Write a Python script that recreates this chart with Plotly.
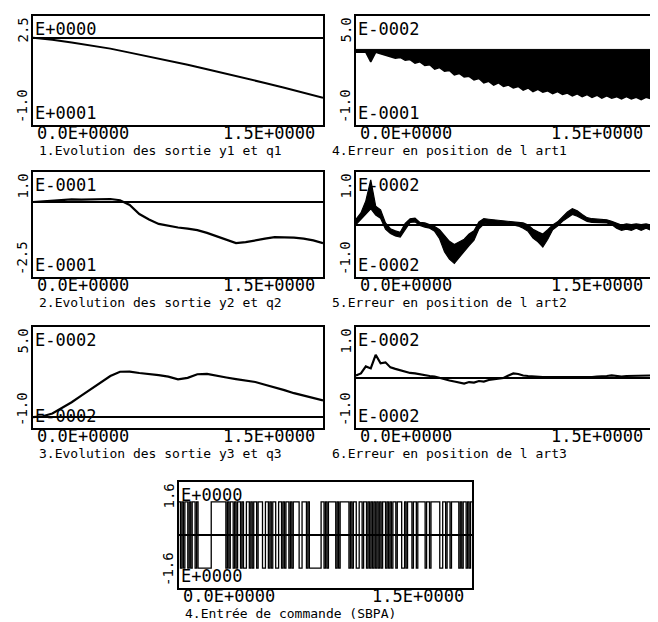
import plotly.graph_objects as go

# The page body adds an 8 px margin, so the figure is drawn 8 px smaller and
# every pixel position below is given in window pixels and shifted by OFF.
OFF = 8
W, H = 658 - OFF, 622 - OFF

# ---------------- time grids ----------------
t01 = [round(i * 0.1, 3) for i in range(16)]
t05 = [round(i * 0.05, 3) for i in range(31)]
t025 = [round(i * 0.025, 4) for i in range(61)]

# ---------------- 1. y1 / q1 ----------------
y1_out = [0.0, -0.22, -0.54, -0.86, -1.24, -1.7, -2.15, -2.6, -3.1, -3.6,
          -4.1, -4.63, -5.18, -5.73, -6.3, -6.87]

# ---------------- 4. error art1 (band between upper and lower envelope) ----------------
err1_t_up = [0.0, 0.5, 1.0, 1.5]
err1_up = [0.004, 0.004, 0.004, 0.004]
err1_low = [0.002, 0.001, 0.000, -0.013, 0.000, -0.002, -0.004, -0.005, -0.008, -0.007,
            -0.011, -0.010, -0.015, -0.013, -0.018, -0.017, -0.023, -0.021, -0.026, -0.025,
            -0.031, -0.029, -0.034, -0.033, -0.038, -0.036, -0.042, -0.040, -0.045, -0.042,
            -0.047, -0.045, -0.049, -0.047, -0.052, -0.049, -0.054, -0.051, -0.055, -0.053,
            -0.057, -0.054, -0.058, -0.056, -0.060, -0.057, -0.061, -0.058, -0.062, -0.059,
            -0.063, -0.060, -0.063, -0.061, -0.064, -0.061, -0.064, -0.062, -0.065, -0.062,
            -0.064]

# ---------------- 2. y2 / q2 ----------------
y2_out = [0.0, 0.002, 0.005, 0.008, 0.009, 0.008, 0.008, 0.009, 0.010, 0.006,
          -0.010, -0.040, -0.058, -0.073, -0.080, -0.085, -0.089, -0.094, -0.103, -0.115,
          -0.127, -0.137, -0.134, -0.127, -0.122, -0.117, -0.117, -0.119, -0.122, -0.128,
          -0.137]

# ---------------- 5. error art2 (noisy band) ----------------
err2_up = [0.001, 0.0022, 0.0045, 0.0085, 0.0035, 0.0028, 0.0003, -0.0008, -0.0012, -0.0015,
           0.0002, 0.0011, 0.0012, 0.0004, 0.0003, 0.0, -0.0004, -0.001, -0.0022, -0.0032,
           -0.0038, -0.0033, -0.0028, -0.0018, -0.0012, 0.0005, 0.0011, 0.001, 0.0009, 0.0008,
           0.0007, 0.0007, 0.0006, 0.0005, 0.0003, -0.0001, -0.0009, -0.0014, -0.0018, -0.001,
           -0.0001, 0.0005, 0.0014, 0.0024, 0.003, 0.0026, 0.0019, 0.0013, 0.0011, 0.001,
           0.001, 0.0009, 0.0006, 0.0002, -0.0001, 0.0001, 0.0, 0.0001, 0.0, 0.0001,
           -0.0001]
err2_low = [0.0, 0.001, 0.002, 0.003, 0.0018, 0.0012, -0.0009, -0.0017, -0.0022, -0.0024,
            -0.001, 0.0004, 0.0005, -0.0002, -0.0005, -0.0007, -0.0013, -0.0027, -0.0052, -0.0066,
            -0.0074, -0.0062, -0.0052, -0.004, -0.003, -0.0008, 0.0001, 0.0002, 0.0001, 0.0001,
            0.0, 0.0, -0.0001, -0.0003, -0.0007, -0.0013, -0.0026, -0.0033, -0.0043, -0.0028,
            -0.001, -0.0003, 0.0006, 0.0013, 0.0019, 0.0016, 0.0011, 0.0006, 0.0004, 0.0004,
            0.0003, 0.0003, 0.0, -0.0007, -0.0011, -0.0009, -0.0011, -0.0007, -0.0011, -0.0007,
            -0.0011]

# ---------------- 3. y3 / q3 ----------------
y3_out = [0.0, 0.0005, 0.002, 0.005, 0.0083, 0.012, 0.0155, 0.019, 0.0228, 0.0252,
          0.0253, 0.0245, 0.024, 0.0233, 0.0225, 0.021, 0.0218, 0.0238, 0.024, 0.0232,
          0.022, 0.0211, 0.0203, 0.0195, 0.018, 0.0166, 0.015, 0.0133, 0.0121, 0.0107,
          0.0093]

# ---------------- 6. error art3 ----------------
err3 = [0.0004, 0.0008, 0.0022, 0.0018, 0.0045, 0.0028, 0.0030, 0.0020, 0.0017, 0.0014,
        0.0012, 0.0009, 0.0008, 0.0006, 0.0005, 0.0003, 0.0002, -0.0001, -0.0003, -0.0006,
        -0.0008, -0.0010, -0.0012, -0.0009, -0.0010, -0.0007, -0.0008, -0.0005, -0.0004, -0.0003,
        -0.0001, 0.0004, 0.0008, 0.0007, 0.0004, 0.0003, 0.0002, 0.0002, 0.0001, 0.0001,
        0.0001, 0.0, 0.0001, 0.0001, 0.0, 0.0001, 0.0001, 0.0, 0.0001, 0.0002,
        0.0002, 0.0003, 0.0004, 0.0003, 0.0002, 0.0003, 0.0003, 0.0004, 0.0003, 0.0004,
        0.0004]

# ---------------- 7. SBPA command input (bits, period 0.0075 s) ----------------
sbpa_period = 0.0075
sbpa_bits = ("1010110101" "1010000000" "0011111111" "1101011010" "1101001101"
             "0110111001" "1010110011" "0101101011" "1100111010" "0000000110"
             "1011111010" "1111110101" "1001101101" "0101010101" "1010101101"
             "1100101110" "1101111101" "1011111100" "1101101111" "1010110101")

# ---------------- labels ----------------
captions = ["1.Evolution des sortie y1 et q1", "4.Erreur en position de l art1",
            "2.Evolution des sortie y2 et q2", "5.Erreur en position de l art2",
            "3.Evolution des sortie y3 et q3", "6.Erreur en position de l art3",
            "4.Entrée de commande (SBPA)"]
ytop_labels = ["2.5", "5.0", "1.0", "1.0", "5.0", "1.0", "1.6"]
ybot_labels = ["-1.0", "-1.0", "-2.5", "-1.0", "-1.0", "-1.0", "-1.6"]
etop_labels = ["E+0000", "E-0002", "E-0001", "E-0002", "E-0002", "E-0002", "E+0000"]
ebot_labels = ["E+0001", "E-0001", "E-0001", "E-0002", "E-0002", "E-0002", "E+0000"]
xmin_label, xmax_label = "0.0E+0000", "1.5E+0000"

yranges = [[-10, 2.5], [-0.1, 0.05], [-0.25, 0.1], [-0.01, 0.01],
           [-0.006, 0.05], [-0.01, 0.01], [-1.6, 1.6]]

# panel boxes in window pixels (left, right, top, bottom)
boxes = [(33, 323, 16, 125), (356, 651, 16, 125),
         (33, 323, 172, 277), (356, 651, 172, 277),
         (33, 323, 327, 428), (356, 651, 327, 428),
         (179, 472, 482, 588)]

fig = go.Figure()
LINE = dict(color="black", width=2)


def ax(n):
    return ("x" if n == 1 else f"x{n}"), ("y" if n == 1 else f"y{n}")


xa, ya = ax(1)
fig.add_trace(go.Scatter(x=t01, y=y1_out, mode="lines", line=LINE, xaxis=xa, yaxis=ya))

xa, ya = ax(2)
fig.add_trace(go.Scatter(x=err1_t_up, y=err1_up, mode="lines", line=dict(color="black", width=1),
                         xaxis=xa, yaxis=ya))
fig.add_trace(go.Scatter(x=t025, y=err1_low, mode="lines", line=dict(color="black", width=1.5),
                         fill="tonexty", fillcolor="black", xaxis=xa, yaxis=ya))

xa, ya = ax(3)
fig.add_trace(go.Scatter(x=t05, y=y2_out, mode="lines", line=dict(color="black", width=2.2),
                         xaxis=xa, yaxis=ya))

xa, ya = ax(4)
fig.add_trace(go.Scatter(x=t025, y=err2_up, mode="lines", line=dict(color="black", width=1.2),
                         xaxis=xa, yaxis=ya))
fig.add_trace(go.Scatter(x=t025, y=err2_low, mode="lines", line=dict(color="black", width=1.2),
                         fill="tonexty", fillcolor="black", xaxis=xa, yaxis=ya))

xa, ya = ax(5)
fig.add_trace(go.Scatter(x=t05, y=y3_out, mode="lines", line=dict(color="black", width=2.2),
                         xaxis=xa, yaxis=ya))

xa, ya = ax(6)
fig.add_trace(go.Scatter(x=t025, y=err3, mode="lines", line=dict(color="black", width=2.2),
                         xaxis=xa, yaxis=ya))

xa, ya = ax(7)
sb_x = [round(i * sbpa_period, 4) for i in range(len(sbpa_bits) + 1)]
sb_y = [1 if b == "1" else -1 for b in sbpa_bits]
sb_y = sb_y + [sb_y[-1]]
fig.add_trace(go.Scatter(x=sb_x, y=sb_y, mode="lines", line=dict(color="black", width=1.3, shape="hv"),
                         xaxis=xa, yaxis=ya))

MONO = "DejaVu Sans Mono"
layout = dict(width=W, height=H, margin=dict(l=0, r=0, t=0, b=0),
              paper_bgcolor="white", plot_bgcolor="white", showlegend=False)
annotations = []
for i, (l, r, t, b) in enumerate(boxes):
    n = i + 1
    l, r, t, b = l - OFF, r - OFF, t - OFF, b - OFF
    xk = "xaxis" if n == 1 else f"xaxis{n}"
    yk = "yaxis" if n == 1 else f"yaxis{n}"
    layout[xk] = dict(domain=[l / W, r / W], range=[0, 1.5], showline=True, mirror=True,
                      linecolor="black", linewidth=2, showticklabels=False, ticks="",
                      showgrid=False, zeroline=False, fixedrange=True,
                      anchor=("y" if n == 1 else f"y{n}"))
    layout[yk] = dict(domain=[1 - b / H, 1 - t / H], range=yranges[i], showline=True, mirror=True,
                      linecolor="black", linewidth=2, showticklabels=False, ticks="",
                      showgrid=False, zeroline=True, zerolinecolor="black", zerolinewidth=1.5,
                      fixedrange=True, anchor=("x" if n == 1 else f"x{n}"))
    xr = "x domain" if n == 1 else f"x{n} domain"
    yr = "y domain" if n == 1 else f"y{n} domain"
    tick_font = dict(family=MONO, size=17, color="black")
    rot_font = dict(family=MONO, size=14, color="black")
    annotations.append(dict(x=0, y=1, xref=xr, yref=yr, text=ytop_labels[i], showarrow=False,
                            textangle=-90, xanchor="center", yanchor="top", xshift=-11,
                            font=rot_font))
    annotations.append(dict(x=0, y=0, xref=xr, yref=yr, text=ybot_labels[i], showarrow=False,
                            textangle=-90, xanchor="center", yanchor="bottom", xshift=-11,
                            font=rot_font))
    annotations.append(dict(x=0, y=1, xref=xr, yref=yr, text=etop_labels[i], showarrow=False,
                            xanchor="left", yanchor="top", xshift=0, yshift=-1, font=tick_font))
    annotations.append(dict(x=0, y=0, xref=xr, yref=yr, text=ebot_labels[i], showarrow=False,
                            xanchor="left", yanchor="bottom", xshift=0, yshift=0, font=tick_font))
    annotations.append(dict(x=0, y=0, xref=xr, yref=yr, text=xmin_label, showarrow=False,
                            xanchor="left", yanchor="top", xshift=2, yshift=4, font=tick_font))
    annotations.append(dict(x=1, y=0, xref=xr, yref=yr, text=xmax_label, showarrow=False,
                            xanchor="right", yanchor="top", xshift=-6, yshift=4, font=tick_font))
    annotations.append(dict(x=0, y=0, xref=xr, yref=yr, text=captions[i], showarrow=False,
                            xanchor="left", yanchor="top", xshift=(-26 if n in (2, 4, 6) else 4),
                            yshift=-16, font=dict(family=MONO, size=13, color="black")))
layout["annotations"] = annotations
fig.update_layout(**layout)
fig.write_html("out.html")
